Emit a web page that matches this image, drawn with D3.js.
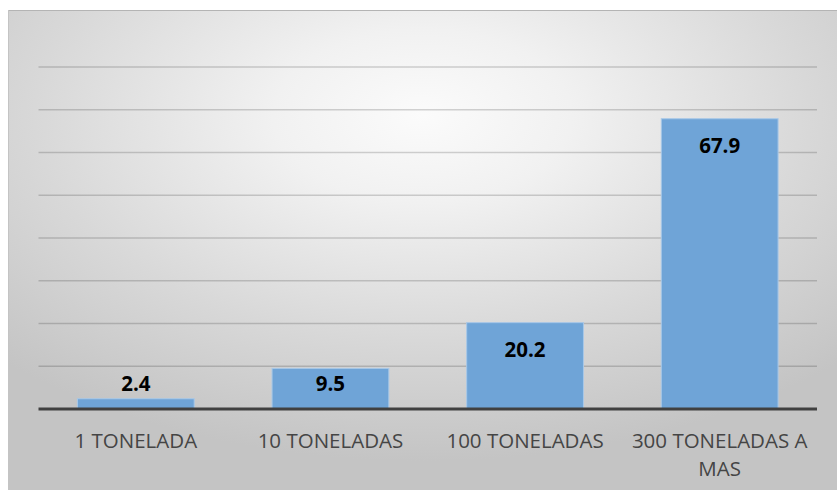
<!DOCTYPE html>
<html lang="es">
<head>
<meta charset="UTF-8"/>
<title>Toneladas</title>
<style>
  body { margin: 0; background: #fff; }
  svg { display: block; font-family: "Open Sans", sans-serif; }
</style>
</head>
<body>
<svg id="chart" width="837" height="490"></svg>
<script src="https://d3js.org/d3.v7.min.js"></script>
<script>
// data
var categories = ["1 TONELADA", "10 TONELADAS", "100 TONELADAS", "300 TONELADAS A MAS"];
var values = [2.4, 9.5, 20.2, 67.9];
var gridTicks = [0, 10, 20, 30, 40, 50, 60, 70, 80];

var svg = d3.select("#chart");

// chart area background: soft radial grey
var defs = svg.append("defs");
var grad = defs.append("radialGradient")
    .attr("id", "bg")
    .attr("cx", "50%").attr("cy", "22%")
    .attr("r", "72%");
grad.append("stop").attr("offset", "0%").attr("stop-color", "#fbfbfb");
grad.append("stop").attr("offset", "25%").attr("stop-color", "#f1f1f1");
grad.append("stop").attr("offset", "65%").attr("stop-color", "#d8d8d8");
grad.append("stop").attr("offset", "100%").attr("stop-color", "#c4c4c4");

svg.append("rect")
    .attr("x", 8).attr("y", 10)
    .attr("width", 829).attr("height", 480)
    .attr("fill", "url(#bg)");
svg.append("line")
    .attr("x1", 8).attr("x2", 837)
    .attr("y1", 10.5).attr("y2", 10.5)
    .attr("stroke", "#b4b4b4").attr("stroke-width", 1);
svg.append("line")
    .attr("x1", 8.5).attr("x2", 8.5)
    .attr("y1", 10).attr("y2", 490)
    .attr("stroke", "#c4c4c4").attr("stroke-width", 1);

var left = 38.5, right = 817;

var x = d3.scaleBand()
    .domain(categories)
    .range([left, right])
    .paddingInner(0.4)
    .paddingOuter(0.2);

var y = d3.scaleLinear()
    .domain([0, 80])
    .range([409, 67]);

// gridlines
svg.append("g")
    .selectAll("line")
    .data(gridTicks.filter(function (d) { return d > 0; }))
    .enter().append("line")
    .attr("x1", left).attr("x2", right)
    .attr("y1", function (d) { return y(d); })
    .attr("y2", function (d) { return y(d); })
    .attr("stroke", "#000")
    .attr("stroke-opacity", 0.17)
    .attr("stroke-width", 1.4);

// bars
svg.append("g")
    .selectAll("rect")
    .data(values)
    .enter().append("rect")
    .attr("x", function (d, i) { return x(categories[i]); })
    .attr("y", function (d) { return y(d); })
    .attr("width", x.bandwidth())
    .attr("height", function (d) { return y(0) - y(d); })
    .attr("fill", "#6fa4d7")
    .attr("stroke", "#a8c8e8")
    .attr("stroke-width", 1);

// baseline
svg.append("line")
    .attr("x1", left).attr("x2", right)
    .attr("y1", y(0)).attr("y2", y(0))
    .attr("stroke", "#404040")
    .attr("stroke-width", 3);

// value labels
svg.append("g")
    .selectAll("text")
    .data(values)
    .enter().append("text")
    .attr("x", function (d, i) { return x(categories[i]) + x.bandwidth() / 2; })
    .attr("y", function (d) { return Math.min(y(d) + 34, 391); })
    .attr("text-anchor", "middle")
    .attr("font-size", 20.5)
    .attr("font-weight", "bold")
    .attr("fill", "#000")
    .text(function (d) { return d.toFixed(1); });

// category labels, wrapped to the band
var xLabels = svg.append("g")
    .selectAll("text")
    .data(categories)
    .enter().append("text")
    .attr("x", function (d) { return x(d) + x.bandwidth() / 2; })
    .attr("y", 448)
    .attr("text-anchor", "middle")
    .attr("font-size", 20.5)
    .attr("fill", "#454545");

xLabels.each(function (d) {
    var el = d3.select(this);
    var words = d.split(" ");
    var lines = [];
    var cur = "";
    var probe = el.append("tspan");
    words.forEach(function (w) {
        var test = cur ? cur + " " + w : w;
        probe.text(test);
        if (probe.node().getComputedTextLength() > 188 && cur) {
            lines.push(cur);
            cur = w;
        } else {
            cur = test;
        }
    });
    lines.push(cur);
    probe.remove();
    var cx = +el.attr("x");
    lines.forEach(function (line, i) {
        el.append("tspan")
            .attr("x", cx)
            .attr("dy", i === 0 ? 0 : 28)
            .text(line);
    });
});
</script>
</body>
</html>
